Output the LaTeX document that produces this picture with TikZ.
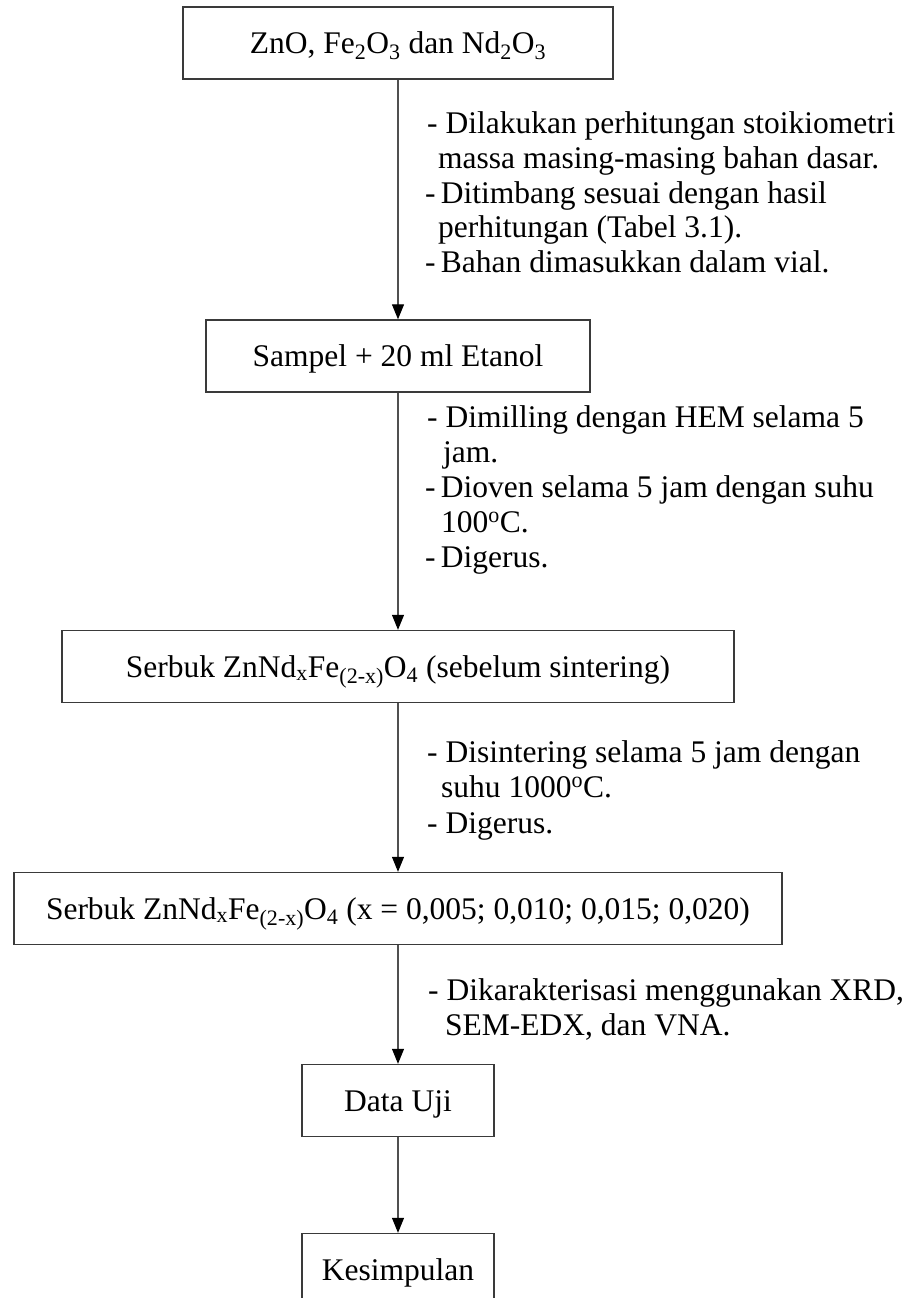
\documentclass[tikz,border=0pt]{standalone}
\usepackage{fontspec}
\setmainfont{Liberation Serif}
\usetikzlibrary{arrows.meta}
\definecolor{boxgray}{HTML}{3A3A3A}
\definecolor{linegray}{HTML}{505050}
\newcommand{\mainfs}{\fontsize{31.5}{35}\selectfont}
\tikzset{
  box/.style={draw=boxgray, line width=1.4pt, minimum height=72pt, inner sep=0pt,
    text height=21pt, text depth=0pt, font=\mainfs},
  flow/.style={draw=linegray, line width=1.1pt,
    -{Triangle[length=15pt,width=12pt,color=black]}},
  note/.style={anchor=base west, inner sep=0pt, font=\mainfs},
}
\begin{document}
\begin{tikzpicture}[x=1pt,y=-1pt]
\useasboundingbox (0,0) rectangle (912,1298);
\clip (0,0) rectangle (912,1298);
\fill[white] (0,0) rectangle (912,1298);

% boxes
\node[box, minimum width=430pt] (b1) at (398,43)
  {ZnO, Fe\textsubscript{2}O\textsubscript{3} dan Nd\textsubscript{2}O\textsubscript{3}};
\node[box, minimum width=384pt] (b2) at (398,356) {Sampel + 20 ml Etanol};
\node[box, minimum width=672pt] (b3) at (398,666.5)
  {Serbuk ZnNd\textsubscript{x}Fe\textsubscript{(2-x)}O\textsubscript{4} (sebelum sintering)};
\node[box, minimum width=768pt] (b4) at (398,908.5)
  {Serbuk ZnNd\textsubscript{x}Fe\textsubscript{(2-x)}O\textsubscript{4} (x = 0,005; 0,010; 0,015; 0,020)};
\node[box, minimum width=192pt] (b5) at (398,1100.5) {Data Uji};
\node[box, minimum width=192pt] (b6) at (398,1269.5) {Kesimpulan};

% connectors
\draw[flow] (b1.south) -- (b2.north);
\draw[flow] (b2.south) -- (b3.north);
\draw[flow] (b3.south) -- (b4.north);
\draw[flow] (b4.south) -- (b5.north);
\draw[flow] (b5.south) -- (b6.north);

% notes block 1
\node[note] (n11) at (427,133) {- Dilakukan perhitungan stoikiometri};
\node[note] (n12) at (438,168) {massa masing-masing bahan dasar.};
\node[note] (n13) at (425,203) {-\,Ditimbang sesuai dengan hasil};
\node[note] (n14) at (438,237) {perhitungan (Tabel 3.1).};
\node[note] (n15) at (425,272) {-\,Bahan dimasukkan dalam vial.};

% notes block 2
\node[note] (n21) at (427,427) {- Dimilling dengan HEM selama 5};
\node[note] (n22) at (443,462) {jam.};
\node[note] (n23) at (425,497) {-\,Dioven selama 5 jam dengan suhu};
\node[note] (n24) at (441,532) {100\textsuperscript{o}C.};
\node[note] (n25) at (425,567) {-\,Digerus.};

% notes block 3
\node[note] (n31) at (427,762) {- Disintering selama 5 jam dengan};
\node[note] (n32) at (441,797) {suhu 1000\textsuperscript{o}C.};
\node[note] (n33) at (427,833) {- Digerus.};

% notes block 4
\node[note] (n41) at (428,1000) {- Dikarakterisasi menggunakan XRD,};
\node[note] (n42) at (445,1035) {SEM-EDX, dan VNA.};
\end{tikzpicture}
\end{document}
